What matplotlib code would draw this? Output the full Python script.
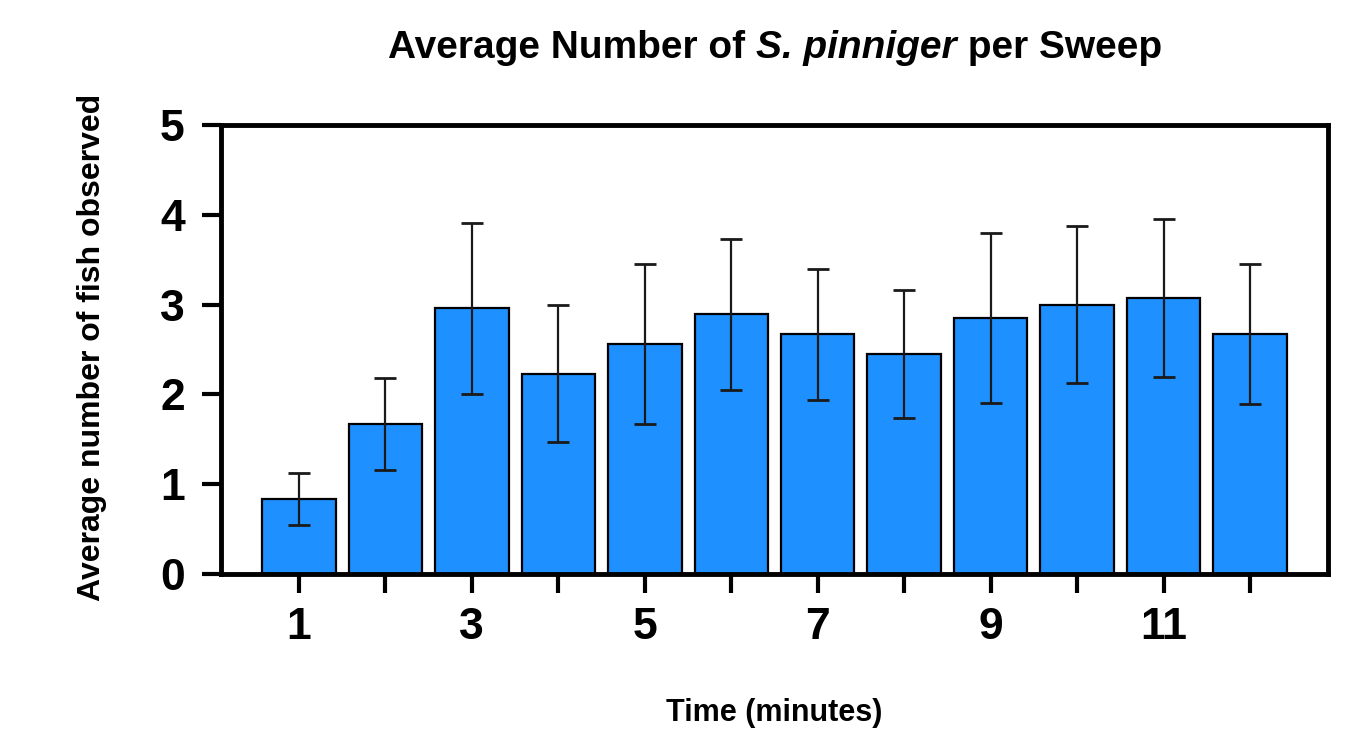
import numpy as np
import matplotlib
matplotlib.use("Agg")
import matplotlib.pyplot as plt

plt.rcParams['font.family'] = ['Liberation Sans', 'DejaVu Sans']

# data
minutes = [1, 2, 3, 4, 5, 6, 7, 8, 9, 10, 11, 12]
avg_fish = [0.84, 1.67, 2.96, 2.23, 2.56, 2.89, 2.67, 2.45, 2.85, 3.00, 3.07, 2.67]
err_fish = [0.29, 0.51, 0.95, 0.76, 0.89, 0.84, 0.73, 0.71, 0.95, 0.87, 0.88, 0.78]
x_tick_labels = ["1", "", "3", "", "5", "", "7", "", "9", "", "11", ""]
y_ticks = [0, 1, 2, 3, 4, 5]

fig = plt.figure(figsize=(13.56, 7.46), dpi=100)
ax = fig.add_axes([221 / 1356, 1 - 574 / 746, 1107 / 1356, 449 / 746])

ax.bar(minutes, avg_fish, width=0.85, color="#1E90FF", edgecolor="black",
       linewidth=1.6, zorder=2)
ax.errorbar(minutes, avg_fish, yerr=err_fish, fmt="none", ecolor="#1a1a1a",
            elinewidth=1.6, capsize=8, capthick=2, zorder=3)

ax.set_xlim(0.1, 12.9)
ax.set_ylim(0, 5)
ax.set_xticks(minutes)
ax.set_xticklabels(x_tick_labels)
ax.set_yticks(y_ticks)

for s in ax.spines.values():
    s.set_linewidth(3.5)
    s.set_capstyle("projecting")

ax.tick_params(axis="both", length=14, width=3, labelsize=32)
ax.tick_params(axis="x", pad=10)
ax.tick_params(axis="y", pad=12)
for lab in ax.get_xticklabels() + ax.get_yticklabels():
    lab.set_fontweight("bold")

ax.set_ylabel("Average number of fish observed", fontsize=23, fontweight="bold")
ax.yaxis.set_label_coords(-0.103, 0.505)
ax.set_xlabel("Time (minutes)", fontsize=22, fontweight="bold")
ax.xaxis.set_label_coords(0.5, -0.276)

# title with an italic species name, built from pieces
renderer = fig.canvas.get_renderer()
title_parts = [("Average Number of ", "normal"), ("S. pinniger", "italic"), (" per Sweep", "normal")]
texts = []
for part, style in title_parts:
    t = fig.text(0, 1 - 58 / 746, part, fontsize=28, fontweight="bold",
                 fontstyle=style, ha="left", va="baseline")
    texts.append(t)
widths = [t.get_window_extent(renderer).width for t in texts]
x0 = 775 - sum(widths) / 2
for t, w in zip(texts, widths):
    t.set_x(x0 / 1356)
    x0 += w

fig.savefig("out.png", dpi=100)
